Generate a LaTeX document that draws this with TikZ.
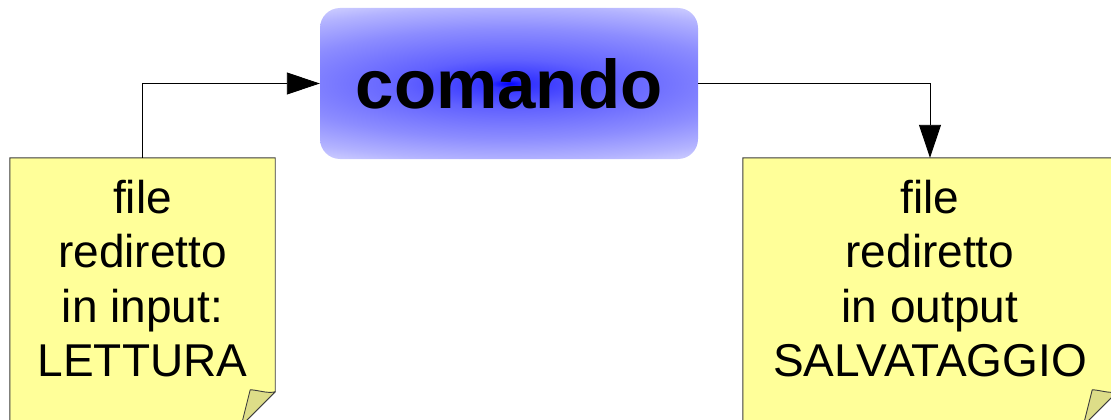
\documentclass[tikz,border=0pt]{standalone}
\usepackage{fontspec}
\setmainfont{Liberation Sans}
\usetikzlibrary{arrows.meta,calc}
\definecolor{notefill}{RGB}{255,255,153}
\definecolor{flapfill}{RGB}{221,221,136}
\definecolor{edge}{RGB}{60,60,60}
% elliptical blue glow for the command box
\pgfdeclareradialshading{cmdglow}{\pgfpoint{0bp}{0bp}}{%
  rgb(0bp)=(0,0,1);
  rgb(1.5bp)=(0.2,0.2,1);
  rgb(8bp)=(0.38,0.38,1);
  rgb(18bp)=(0.55,0.55,1);
  rgb(25bp)=(0.70,0.70,1);
  rgb(30bp)=(0.84,0.84,1);
  rgb(36bp)=(0.92,0.92,1);
  rgb(50bp)=(0.92,0.92,1)}
\begin{document}
\begin{tikzpicture}[x=1pt,y=-1pt,
  cmdbox/.style={rectangle,rounded corners=20pt,minimum width=378pt,minimum height=151pt,
    inner sep=0pt,
    path picture={\shade[shading=cmdglow]
      ([xshift=-320pt,yshift=-76pt]path picture bounding box.center)
      rectangle ([xshift=320pt,yshift=76pt]path picture bounding box.center);},
    font=\fontsize{69}{69}\selectfont\bfseries},
  notebox/.style={rectangle,inner sep=0pt,minimum height=267pt},
  noteline/.style={draw=edge,line width=0.9pt,fill=notefill},
  flapline/.style={draw=edge,line width=0.9pt,fill=flapfill,line join=round},
  notetext/.style={anchor=north,align=center,inner sep=0pt,
    font=\fontsize{46}{54.5}\selectfont},
  arr/.style={draw=black,line width=0.9pt,-{Triangle[length=33pt,width=22pt]}}]
\useasboundingbox (0,0) rectangle (1111,420);
\clip (0,0) rectangle (1111,420);

% command box
\node[cmdbox] (cmd) at (509,83.5) {comando};

% the two folded notes (outline drawn from the node anchors)
\node[notebox,minimum width=265pt] (in) at (142.5,291.5) {};
\node[notebox,minimum width=374pt] (out) at (930,291.5) {};

\foreach \n in {in,out}{
  \path[noteline] (\n.north west) -- (\n.north east)
    -- ($(\n.north east)+(0,234)$) -- ($(\n.north east)+(-34,268)$)
    -- (\n.south west) -- cycle;
  \path[flapline] ($(\n.north east)+(0,234)$)
    .. controls ($(\n.north east)+(-8,236)$) and ($(\n.north east)+(-18,232)$) .. ($(\n.north east)+(-25,232)$)
    -- ($(\n.north east)+(-34,268)$) -- cycle;
}

\node[notetext] (intext) at (142.5,179.5) {file\\rediretto\\in input:\\LETTURA};
\node[notetext] (outtext) at (930,179.5) {file\\rediretto\\in output\\SALVATAGGIO};

% connectors
\draw[arr] (in.north) |- (cmd.west);
\draw[arr] (cmd.east) -| (out.north);
\end{tikzpicture}
\end{document}
